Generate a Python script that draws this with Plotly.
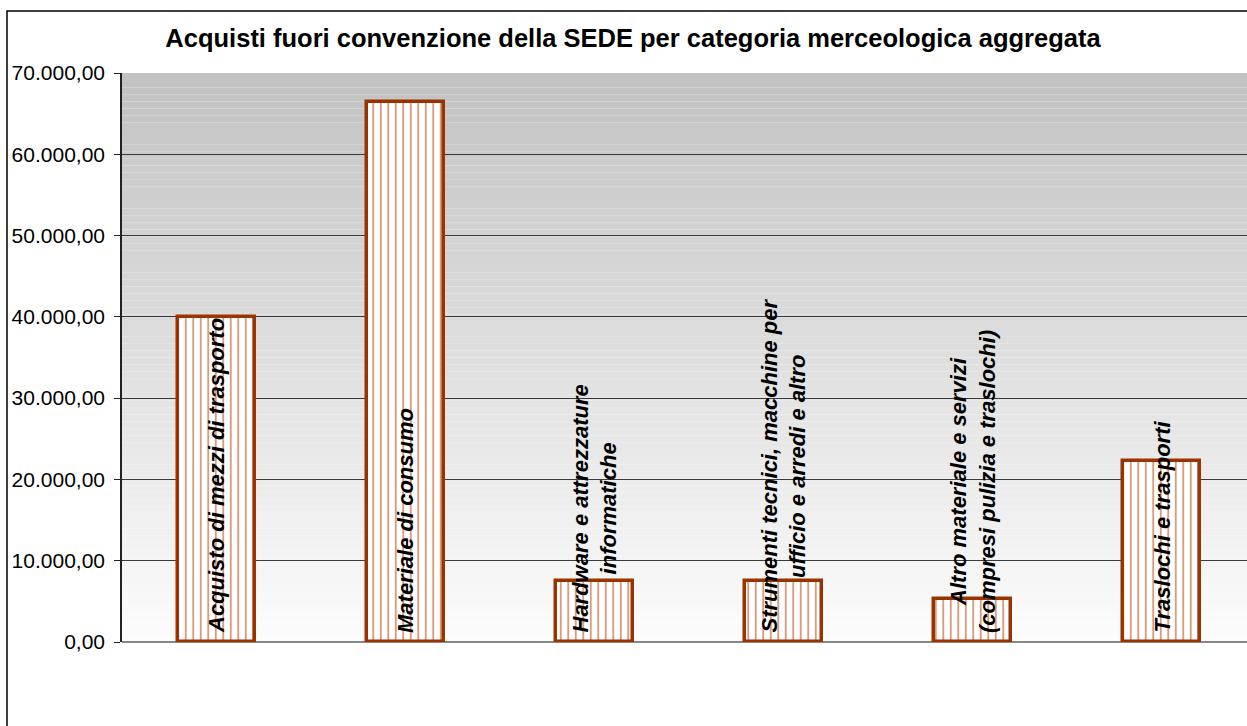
import plotly.graph_objects as go

categories = [
    "Acquisto di mezzi di trasporto",
    "Materiale di consumo",
    "Hardware e attrezzature<br>informatiche",
    "Strumenti tecnici, macchine per<br>ufficio e arredi e altro",
    "Altro materiale e servizi<br>(compresi pulizia e traslochi)",
    "Traslochi e trasporti",
]
values = [40000, 66400, 7500, 7500, 5300, 22300]
y_ticks = [0, 10000, 20000, 30000, 40000, 50000, 60000, 70000]

FONT = "Liberation Sans, Arial, sans-serif"
BROWN = "#993300"

W, H = 1247, 726
L, T, R, B = 122, 73, 0, 84
plot_w = W - L - R
plot_h = H - T - B

xs = list(range(len(categories)))

fig = go.Figure()
fig.add_trace(go.Bar(
    x=xs,
    y=values,
    width=0.41,
    marker=dict(
        color="white",
        line=dict(color=BROWN, width=3.5),
        pattern=dict(shape="|", fgcolor="#C0602F", bgcolor="white",
                     size=7.5, solidity=0.22, fgopacity=0.7),
    ),
    hoverinfo="skip",
))

# labels written inside the bars, reading bottom-to-top
for x, lab in zip(xs, categories):
    fig.add_annotation(
        x=x, y=0, text=f"<b><i>{lab}</i></b>", textangle=-90,
        showarrow=False, xanchor="center", yanchor="bottom", yshift=7,
        align="center", font=dict(family=FONT, size=22, color="black"),
    )

# grey-to-white gradient behind the plot area
n = 80
for i in range(n):
    t = i / (n - 1)
    g = int(round(252 - (252 - 194) * t))
    fig.add_shape(type="rect", xref="paper", yref="paper",
                  x0=0, x1=1, y0=i / n, y1=(i + 1) / n,
                  fillcolor=f"rgb({g},{g},{g})", line=dict(width=0), layer="below")

# chart frame (runs off the right and bottom of the picture)
fig.add_shape(type="rect", xref="paper", yref="paper",
              x0=(7 - L) / plot_w, x1=(W + 20 - L) / plot_w,
              y0=-(H + 20 - T - plot_h) / plot_h, y1=(H - B - 11) / plot_h,
              line=dict(color="black", width=1.5), fillcolor="rgba(0,0,0,0)")

fig.update_layout(
    width=W, height=H,
    margin=dict(l=L, r=R, t=T, b=B),
    paper_bgcolor="white",
    plot_bgcolor="rgba(0,0,0,0)",
    separators=",.",
    showlegend=False,
    bargap=0,
    title=dict(
        text="<b>Acquisti fuori convenzione della SEDE per categoria merceologica aggregata</b>",
        x=633 / W, xanchor="center", y=1 - 38 / H, yanchor="middle",
        font=dict(family=FONT, size=25.5, color="black"),
    ),
    xaxis=dict(range=[-0.5, -0.5 + plot_w / 189.0], showticklabels=False,
               showgrid=False, zeroline=False, showline=False, ticks=""),
    yaxis=dict(range=[0, 70000], tickvals=y_ticks, tickformat=",.2f",
               showgrid=True, gridcolor="#3a3a3a", gridwidth=1,
               zeroline=True, zerolinecolor="#888888", zerolinewidth=1.5,
               showline=True, linecolor="#222222", linewidth=1.5,
               ticks="outside", ticklen=6, tickcolor="#222222",
               ticklabelstandoff=5,
               tickfont=dict(family=FONT, size=21, color="black")),
)

fig.write_html("out.html", config={"displayModeBar": False},
               post_script="document.body.style.margin='0';")
